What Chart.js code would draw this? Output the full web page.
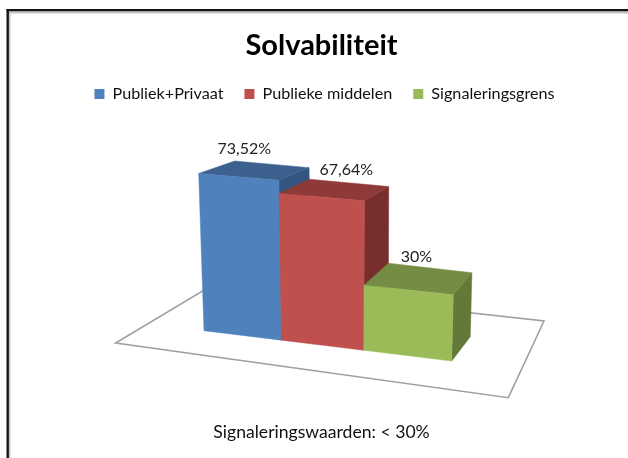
<!DOCTYPE html>
<html>
<head>
<meta charset="utf-8">
<style>html,body{margin:0;padding:0;background:#fff}canvas{display:block;filter:blur(.45px)}</style>
<script src="https://cdn.jsdelivr.net/npm/chart.js@4/dist/chart.umd.js"></script>
</head>
<body>
<canvas id="c" width="628" height="458"></canvas>
<script>
const categories = ['Solvabiliteit'];
const seriesNames = ['Publiek+Privaat', 'Publieke middelen', 'Signaleringsgrens'];
const publiekPrivaat = [73.52];
const publiekeMiddelen = [67.64];
const signaleringsgrens = [30];
const titleText = 'Solvabiliteit';
const footerText = 'Signaleringswaarden: < 30%';

const FONT = 'Lato, Carlito, "Open Sans", sans-serif';
const FACES = [
  {front:'#4F81BD', top:'#3D618F', side:'#33557F'},
  {front:'#C0504D', top:'#8E3A38', side:'#772E2C'},
  {front:'#9BBB59', top:'#748C43', side:'#62793A'}
];
const LABEL_SHIFT = [[-27,-15],[-2,-13],[-13,-11]];

// Perspective of the front plane of the 3D box (unit square -> screen quad)
function makeHomography(p0,p1,p2,p3){
  const dx1=p1[0]-p2[0],dx2=p3[0]-p2[0],sx=p0[0]-p1[0]+p2[0]-p3[0];
  const dy1=p1[1]-p2[1],dy2=p3[1]-p2[1],sy=p0[1]-p1[1]+p2[1]-p3[1];
  const den=dx1*dy2-dx2*dy1;
  const g=(sx*dy2-dx2*sy)/den,h=(dx1*sy-sx*dy1)/den;
  const a=p1[0]-p0[0]+g*p1[0],b=p3[0]-p0[0]+h*p3[0],c=p0[0];
  const d=p1[1]-p0[1]+g*p1[1],e=p3[1]-p0[1]+h*p3[1],f=p0[1];
  return (u,v)=>{const w=g*u+h*v+1;return [(a*u+b*v+c)/w,(d*u+e*v+f)/w];};
}
const front = makeHomography([204,330.7],[451.7,361],[456,179.6],[198.2,159.1]);
function project(u,v,depth){
  const p=front(u-.035*u*(1-u),v);
  return [p[0]+depth*(36-17.4*u), p[1]-depth*(24.3-1.52*v-12.3*v*v)];
}
function poly(ctx,pts,fill,stroke,lw){
  ctx.beginPath();
  pts.forEach((p,i)=>i?ctx.lineTo(p[0],p[1]):ctx.moveTo(p[0],p[1]));
  ctx.closePath();
  if(fill){ctx.fillStyle=fill;ctx.fill();ctx.strokeStyle=fill;ctx.lineWidth=.5;ctx.stroke();}
  if(stroke){ctx.strokeStyle=stroke;ctx.lineWidth=lw;ctx.stroke();}
}
const box3d = {
  id:'box3d',
  afterLayout(chart){
    // the legend sits a little right of the title in the reference
    chart.legend.left+=3;chart.legend.right+=3;chart.legend.top-=1;chart.legend.bottom-=1;
    chart.titleBlock.top-=1;chart.titleBlock.bottom-=1;
  },
  beforeDraw(chart){
    const ctx=chart.ctx;
    ctx.save();
    ctx.fillStyle='#fff';ctx.fillRect(0,0,chart.width,chart.height);
    // page frame of the screenshot
    ctx.fillStyle='#c4c4c4';ctx.fillRect(8,12,chart.width-8,1.5);ctx.fillRect(9,12,1.5,chart.height-12);
    ctx.fillStyle='#141414';ctx.fillRect(6.5,9,chart.width-6.5,2.4);ctx.fillRect(6.5,9,2.4,chart.height-9);
    ctx.restore();
  },
  beforeDatasetsDraw(chart){
    const ctx=chart.ctx,area=chart.chartArea,yS=chart.scales.y;
    ctx.save();
    // floor
    poly(ctx,[[115.7,343],[213.7,284.4],[544,321],[508.3,397.7]],'#fff','#a0a0a0',1.6);
    const zero=yS.getPixelForValue(0),span=zero-yS.getPixelForValue(yS.max);
    chart.data.datasets.forEach((ds,i)=>{
      const meta=chart.getDatasetMeta(i),c=FACES[i];
      meta.data.forEach(el=>{
        const u0=(el.x-el.width/2-area.left)/area.width,u1=(el.x+el.width/2-area.left)/area.width;
        const v=(zero-el.y)/span;
        poly(ctx,[project(u1,0,0),project(u1,0,1),project(u1,v,1),project(u1,v,0)],c.side);
        poly(ctx,[project(u0,v,0),project(u1,v,0),project(u1,v,1),project(u0,v,1)],c.top);
        poly(ctx,[project(u0,0,0),project(u1,0,0),project(u1,v,0),project(u0,v,0)],c.front);
      });
    });
    ctx.font='16px '+FONT;ctx.fillStyle='#222';ctx.textAlign='center';ctx.textBaseline='middle';
    chart.data.datasets.forEach((ds,i)=>{
      chart.getDatasetMeta(i).data.forEach((el,j)=>{
        const u=(el.x-area.left)/area.width,v=(zero-el.y)/span,p=project(u,v,1);
        ctx.fillText(String(ds.data[j]).replace('.',',')+'%',p[0]+LABEL_SHIFT[i][0],p[1]+LABEL_SHIFT[i][1]);
      });
    });
    ctx.restore();
    return false;
  }
};
new Chart(document.getElementById('c'),{
  type:'bar',
  plugins:[box3d],
  data:{
    labels:categories,
    datasets:[
      {label:seriesNames[0],data:publiekPrivaat,backgroundColor:FACES[0].front},
      {label:seriesNames[1],data:publiekeMiddelen,backgroundColor:FACES[1].front},
      {label:seriesNames[2],data:signaleringsgrens,backgroundColor:FACES[2].front}
    ]
  },
  options:{
    responsive:false,animation:false,
    layout:{padding:{left:15,right:0,top:14,bottom:10}},
    datasets:{bar:{barPercentage:1,categoryPercentage:1}},
    scales:{x:{display:false},y:{display:false,min:0,max:80}},
    plugins:{
      tooltip:{enabled:false},
      title:{display:true,text:titleText,color:'#000',font:{family:FONT,size:29,weight:'bold'},padding:{top:15,bottom:2}},
      subtitle:{display:true,position:'bottom',text:footerText,color:'#111',font:{family:FONT,size:17.6},padding:{top:0,bottom:5}},
      legend:{position:'top',labels:{boxWidth:10,boxHeight:10,color:'#111',padding:21,font:{family:FONT,size:16.2}}}
    }
  }
});
</script>
</body>
</html>
